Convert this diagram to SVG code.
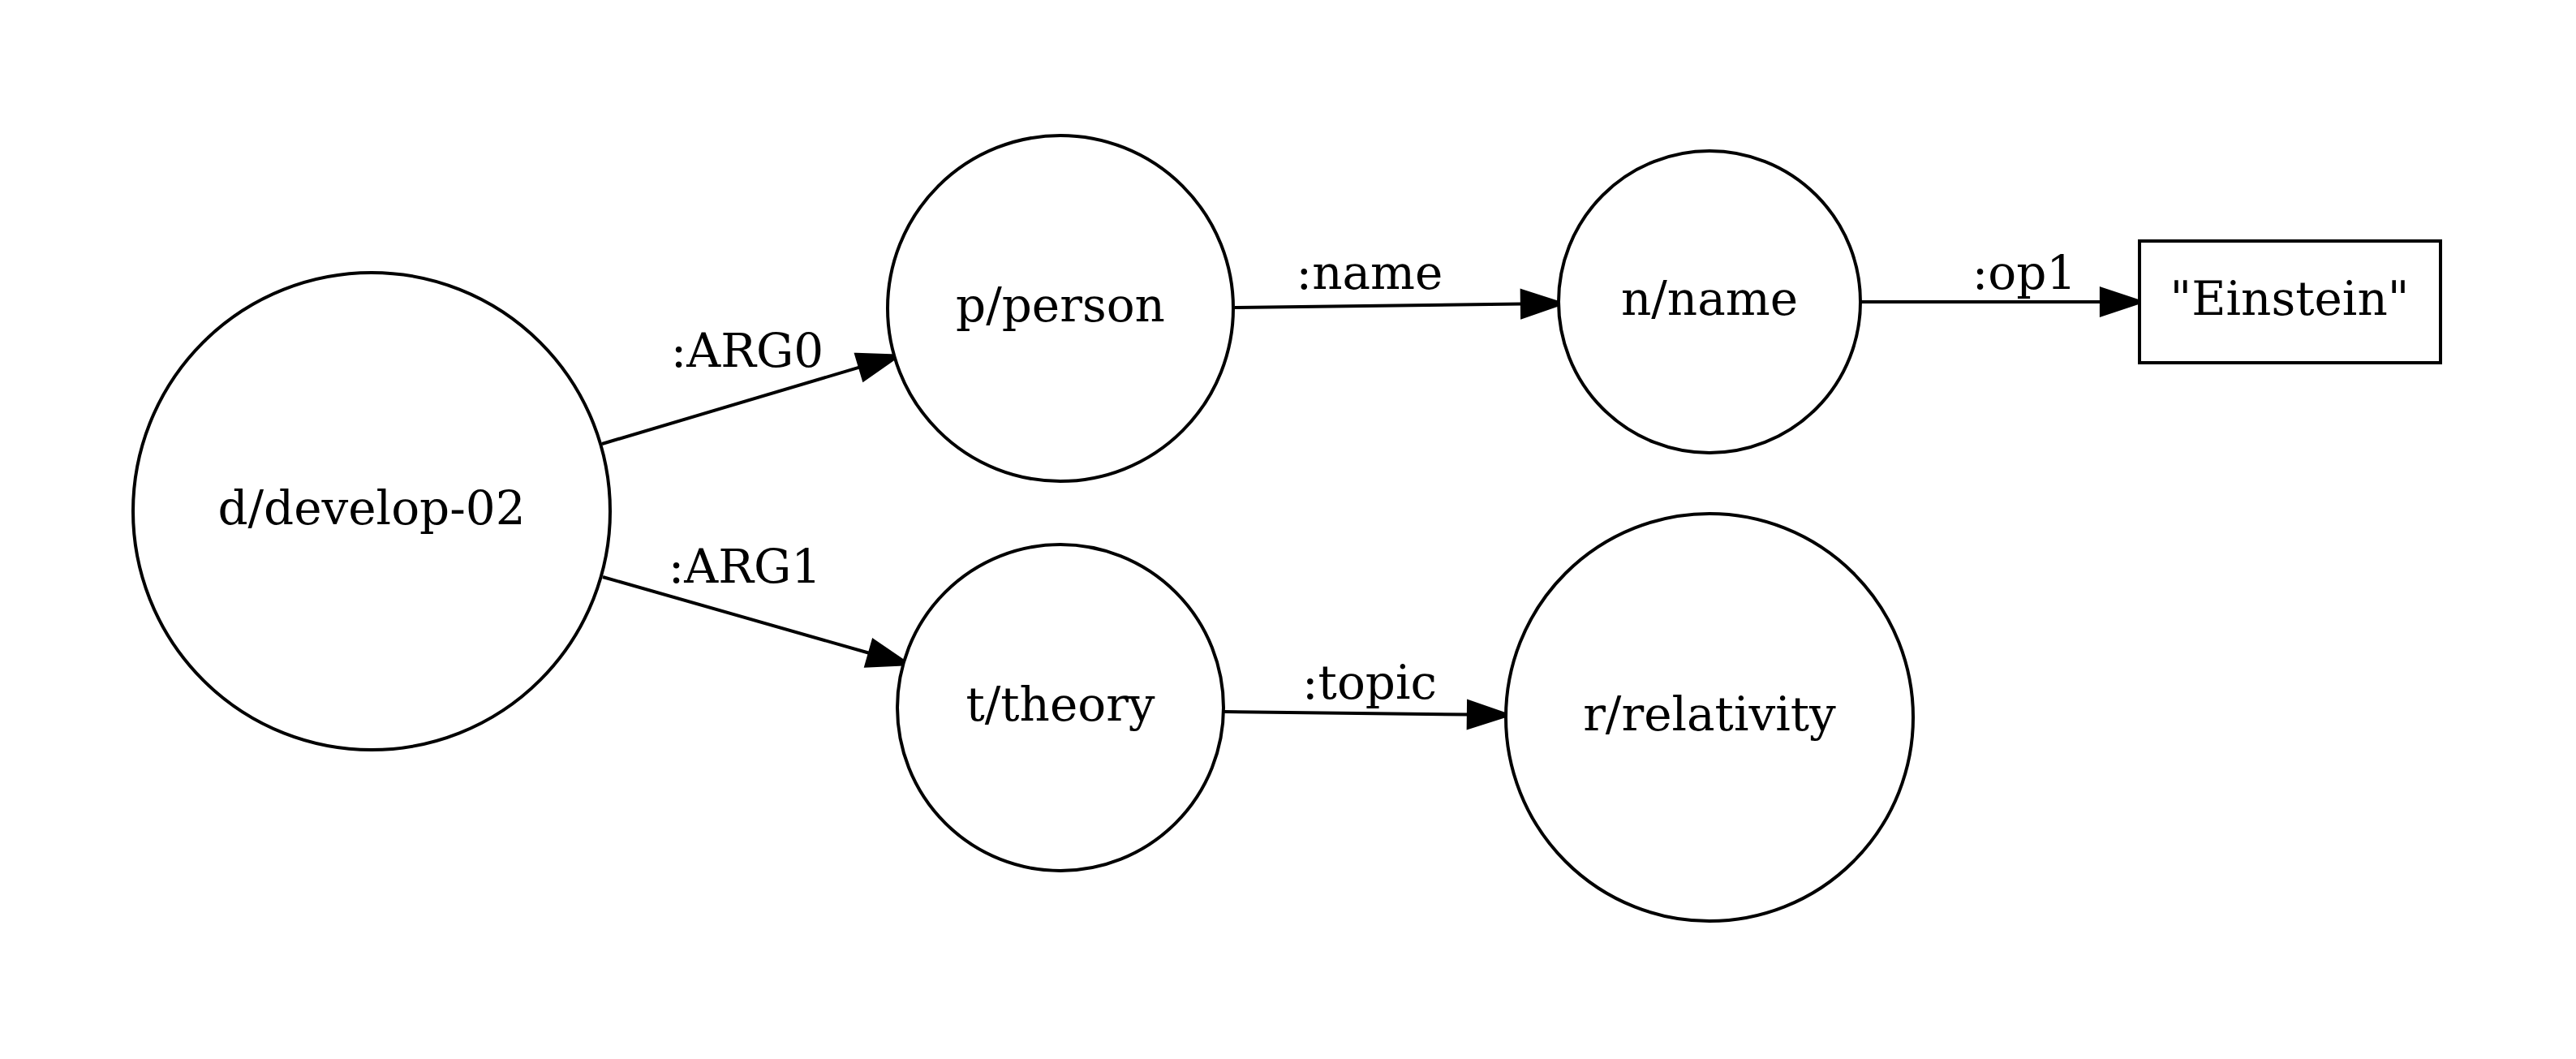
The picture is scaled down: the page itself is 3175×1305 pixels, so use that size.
<svg xmlns="http://www.w3.org/2000/svg" width="3175" height="1305" viewBox="0 0 3175 1305">
<style>
.node{fill:#ffffff;stroke:#000000;stroke-width:4}
.edge{fill:none;stroke:#000000;stroke-width:4}
text{font-family:"DejaVu Serif","Liberation Serif",serif;font-size:58px;fill:#000000;text-anchor:middle}
</style>
<defs>
<marker id="arrow" markerUnits="userSpaceOnUse" markerWidth="60" markerHeight="50" viewBox="-4 -20 56 40" refX="0" refY="0" orient="auto" overflow="visible">
<path d="M0,-15 L45,0 L0,15 Z" fill="#000000" stroke="#000000" stroke-width="4" stroke-linejoin="miter"/>
</marker>
</defs>
<rect x="0" y="0" width="3175" height="1305" fill="#ffffff"/>
<g id="connectors">
<g id="edge-arg0">
<path class="edge" d="M742,547 L1060,452.4" marker-end="url(#arrow)"/>
<text x="921" y="452">:ARG0</text>
</g>
<g id="edge-arg1">
<path class="edge" d="M743,711 L1072,805" marker-end="url(#arrow)"/>
<text x="918" y="718">:ARG1</text>
</g>
<g id="edge-name">
<path class="edge" d="M1522,379 L1876,374.6" marker-end="url(#arrow)"/>
<text x="1688" y="356">:name</text>
</g>
<g id="edge-op1">
<path class="edge" d="M2293,372 L2590,372" marker-end="url(#arrow)"/>
<text x="2495" y="356">:op1</text>
</g>
<g id="edge-topic">
<path class="edge" d="M1509,877 L1810,880.5" marker-end="url(#arrow)"/>
<text x="1688" y="861">:topic</text>
</g>
</g>
<g id="node-develop">
<circle class="node" cx="458" cy="630" r="294"/>
<text x="458" y="646">d/develop-02</text>
</g>
<g id="node-person">
<circle class="node" cx="1307" cy="380" r="213"/>
<text x="1307" y="396">p/person</text>
</g>
<g id="node-name">
<circle class="node" cx="2107" cy="372" r="186"/>
<text x="2107" y="388">n/name</text>
</g>
<g id="node-einstein">
<rect class="node" x="2637" y="297" width="371" height="150"/>
<text x="2822" y="388">"Einstein"</text>
</g>
<g id="node-theory">
<circle class="node" cx="1307" cy="872" r="201"/>
<text x="1307" y="888">t/theory</text>
</g>
<g id="node-relativity">
<circle class="node" cx="2107" cy="884" r="251"/>
<text x="2107" y="900">r/relativity</text>
</g>
</svg>
